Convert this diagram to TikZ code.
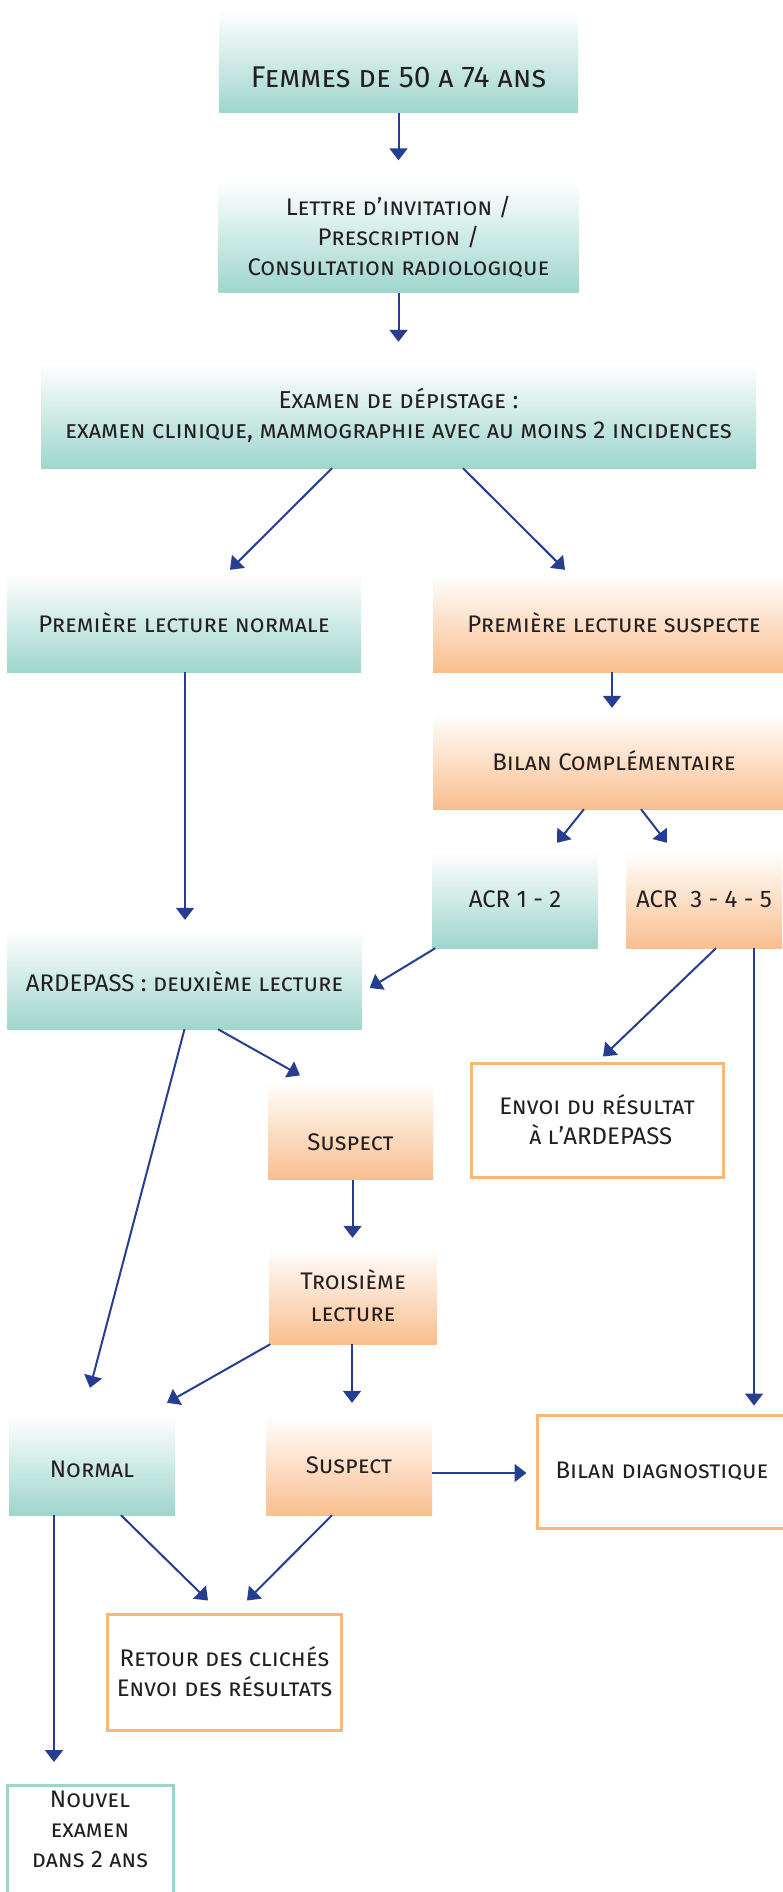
\documentclass[tikz,border=0pt]{standalone}
\usepackage{fontspec}
\setmainfont{Fira Sans}
\usetikzlibrary{arrows.meta}
\definecolor{tealc}{HTML}{9ED6CC}
\definecolor{orangec}{HTML}{FABE8E}
\definecolor{orangeline}{HTML}{FBB77A}
\definecolor{tealline}{HTML}{9AD6CC}
\definecolor{arrowc}{HTML}{263E91}
\definecolor{textc}{HTML}{231F20}
\newcommand\lowered[2]{\raisebox{-#1pt}[\height][\depth]{#2}}
\begin{document}
\begin{tikzpicture}[x=1pt,y=-1pt,
  every node/.style={font=\fontsize{24}{30}\selectfont\scshape, text=textc, align=center, inner sep=0pt},
  tealbox/.style={rectangle, top color=white, bottom color=tealc},
  orangebox/.style={rectangle, top color=white, bottom color=orangec},
  obox/.style={rectangle, draw=orangeline, line width=3pt, fill=white},
  tbox/.style={rectangle, draw=tealline, line width=3pt, fill=white},
  arr/.style={draw=arrowc, line width=2pt, -{Triangle[width=18pt,length=12pt]}}]
\useasboundingbox (0,0) rectangle (783,1892);
\clip (0,0) rectangle (783,1892);

\node[tealbox, minimum width=359, minimum height=103, font=\fontsize{30}{34}\selectfont\scshape] (femmes) at (398.5,61.5) {\lowered{16}{Femmes de 50 a 74 ans}};
\node[tealbox, minimum width=360, minimum height=112, font=\fontsize{24}{30}\selectfont\scshape] (lettre) at (398.5,236.5) {Lettre d’invitation /\\Prescription /\\Consultation radiologique};
\node[tealbox, minimum width=715, minimum height=105, font=\fontsize{24.5}{30}\selectfont\scshape] (exam) at (398.5,415.5) {Examen de dépistage :\\examen clinique, mammographie avec au moins 2 incidences};
\node[tealbox, minimum width=354, minimum height=99] (pnorm) at (184,622.5) {Première lecture normale};
\node[orangebox, minimum width=362, minimum height=99] (psusp) at (614,622.5) {Première lecture suspecte};
\node[orangebox, minimum width=362, minimum height=97] (bilanc) at (614,760.5) {Bilan Complémentaire};
\node[tealbox, minimum width=165, minimum height=97] (acr12) at (515,899.5) {ACR 1 - 2};
\node[orangebox, minimum width=156, minimum height=97] (acr345) at (704,899.5) {ACR\ \ 3 - 4 - 5};
\node[tealbox, minimum width=354, minimum height=100] (ardepass) at (184.5,979) {\lowered{3}{ARDEPASS : deuxième lecture}};
\node[obox, minimum width=252, minimum height=114, align=left, font=\fontsize{24}{30}\selectfont\scshape] (envoi) at (597,1120) {Envoi du résultat\\\hspace*{30pt}à l’ARDEPASS\hspace*{14pt}};
\node[orangebox, minimum width=165, minimum height=99] (susp1) at (350.5,1130) {\lowered{12}{Suspect}};
\node[orangebox, minimum width=167, minimum height=97, font=\fontsize{24}{32}\selectfont\scshape] (trois) at (353,1295.5) {Troisième\\lecture};
\node[tealbox, minimum width=166, minimum height=100] (normal) at (92,1465) {\lowered{4}{Normal}};
\node[orangebox, minimum width=166, minimum height=100] (susp2) at (349,1465) {Suspect};
\node[obox, minimum width=250, minimum height=113] (bdiag) at (662,1471.5) {Bilan diagnostique};
\node[obox, minimum width=234, minimum height=116, font=\fontsize{24}{30}\selectfont\scshape] (retour) at (224.5,1672) {Retour des clichés\\Envoi des résultats};
\node[tbox, minimum width=166, minimum height=120, anchor=north] (nouvel) at (90,1784) {\\[-8pt]Nouvel\\examen\\dans 2 ans\\[20pt]};

\draw[arr] (femmes.south) -- ([yshift=20pt]lettre.north);
\draw[arr] (lettre.south) -- ([yshift=21pt]exam.north);
\draw[arr] ([xshift=-66.5pt]exam.south) -- ([xshift=46pt,yshift=3pt]pnorm.north);
\draw[arr] ([xshift=64.5pt]exam.south) -- ([xshift=-49pt,yshift=3pt]psusp.north);
\draw[arr] ([xshift=-2pt]psusp.south) -- ([xshift=-2pt,yshift=4pt]bilanc.north);
\draw[arr] ([xshift=-30pt]bilanc.south) -- ([xshift=42pt,yshift=8pt]acr12.north);
\draw[arr] ([xshift=27pt]bilanc.south) -- ([xshift=-37pt,yshift=8pt]acr345.north);
\draw[arr] ([xshift=1pt]pnorm.south) -- ([xshift=0.5pt,yshift=9pt]ardepass.north);
\draw[arr] ([xshift=3pt]acr12.south west) -- ([xshift=8pt,yshift=-9pt]ardepass.east);
\draw[arr] ([xshift=12pt]acr345.south) -- ([xshift=6pt,yshift=5pt]envoi.north);
\draw[arr] ([xshift=50pt]acr345.south) -- ([xshift=92pt,yshift=8pt]bdiag.north);
\draw[arr] ([xshift=33.5pt]ardepass.south) -- ([xshift=-50.5pt,yshift=5pt]susp1.north);
\draw[arr] (ardepass.south) -- ([xshift=-2pt,yshift=27pt]normal.north);
\draw[arr] ([xshift=2pt]susp1.south) -- ([yshift=9pt,xshift=-0.5pt]trois.north);
\draw[arr] ([xshift=1pt]trois.south west) -- ([xshift=75pt,yshift=12pt]normal.north);
\draw[arr] ([xshift=-1pt]trois.south) -- ([xshift=3pt,yshift=12pt]susp2.north);
\draw[arr] ([yshift=-8pt]susp2.east) -- ([xshift=-9pt,yshift=-1.5pt]bdiag.west);
\draw[arr] ([xshift=29pt]normal.south) -- ([xshift=-16.5pt,yshift=12pt]retour.north);
\draw[arr] ([xshift=-17pt]susp2.south) -- ([xshift=22.5pt,yshift=12pt]retour.north);
\draw[arr] ([xshift=-38pt]normal.south) -- ([xshift=-36pt,yshift=22pt]nouvel.north);
\end{tikzpicture}
\end{document}
